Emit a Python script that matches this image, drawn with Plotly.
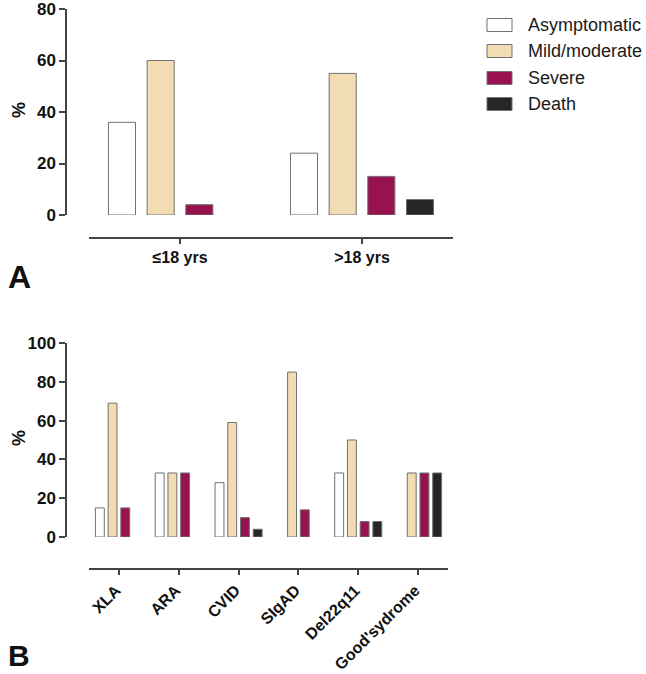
import plotly.graph_objects as go

W, H = 646, 674

series = ["Asymptomatic", "Mild/moderate", "Severe", "Death"]
colors = ["#FFFFFF", "#F2DCB4", "#981250", "#262626"]

age_groups = ["≤18 yrs", ">18 yrs"]
age_values = {
    "Asymptomatic": [36, 24],
    "Mild/moderate": [60, 55],
    "Severe": [4, 15],
    "Death": [0, 6],
}

diseases = ["XLA", "ARA", "CVID", "SIgAD", "Del22q11", "Good'sydrome"]
disease_values = {
    "Asymptomatic": [15, 33, 28, 0, 33, 0],
    "Mild/moderate": [69, 33, 59, 85, 50, 33],
    "Severe": [15, 33, 10, 14, 8, 33],
    "Death": [0, 0, 4, 0, 8, 33],
}


def px(x):
    return x / W


def py(y):
    return 1 - y / H


def bar_line(vals):
    return dict(color="#707070", width=[1 if v else 0 for v in vals])


fig = go.Figure()
for s, c in zip(series, colors):
    fig.add_trace(go.Bar(x=age_groups, y=age_values[s], name=s,
                         marker=dict(color=c, line=bar_line(age_values[s])),
                         xaxis="x", yaxis="y", showlegend=False))
    fig.add_trace(go.Bar(x=diseases, y=disease_values[s], name=s,
                         marker=dict(color=c, line=bar_line(disease_values[s])),
                         xaxis="x2", yaxis="y2", showlegend=False))

FONT = "Liberation Sans, Arial, sans-serif"
tickfont = dict(family=FONT, size=17, color="#111111", weight="bold")
axline = dict(showline=True, linecolor="#444444", linewidth=1.5, ticks="outside", tickcolor="#444444",
              tickwidth=1.5, showgrid=False, zeroline=False, tickfont=tickfont,
              ticklabeloverflow="allow")

fig.update_layout(
    width=W, height=H,
    margin=dict(l=0, r=0, t=0, b=0, autoexpand=False),
    paper_bgcolor="white", plot_bgcolor="white",
    barmode="group", bargap=0.15, bargroupgap=0.3,
    font=dict(family=FONT, color="#111111"),
    xaxis=dict(domain=[px(89), px(453)], range=[-0.5, 1.5], anchor="free", position=py(238),
               ticklen=5, **axline),
    yaxis=dict(domain=[py(215), py(9)], range=[0, 80], anchor="free", position=px(66),
               tickvals=[0, 20, 40, 60, 80], ticklen=6, **axline),
    xaxis2=dict(domain=[px(89), px(448)], range=[-0.5, 5.5], anchor="free", position=py(569),
                ticklen=5, tickangle=-45, ticklabelshift=-3, **axline),
    yaxis2=dict(domain=[py(537), py(343)], range=[0, 100], anchor="free", position=px(66),
                tickvals=[0, 20, 40, 60, 80, 100], ticklen=6, **axline),
)
fig.update_xaxes(tickfont=dict(size=16))

annotations = [
    dict(text="%", x=px(19), y=py(110), textangle=-90, font=dict(size=18, weight="bold")),
    dict(text="%", x=px(19), y=py(438), textangle=-90, font=dict(size=18, weight="bold")),
    dict(text="A", x=px(19), y=py(277), font=dict(size=32, weight="bold")),
    dict(text="B", x=px(19), y=py(655), font=dict(size=30, weight="bold")),
]
shapes = []
row_y = [25, 51, 78, 104]
for s, c, ry in zip(series, colors, row_y):
    shapes.append(dict(type="rect", xref="paper", yref="paper", x0=px(487), x1=px(512),
                       y0=py(ry + 6.5), y1=py(ry - 6.5), fillcolor=c,
                       line=dict(color="#707070", width=1)))
    annotations.append(dict(text=s, x=px(526), y=py(ry), xanchor="left",
                            font=dict(size=18, color="#1A1A1A")))
for a in annotations:
    a.setdefault("xref", "paper")
    a.setdefault("yref", "paper")
    a.setdefault("showarrow", False)
    a.setdefault("xanchor", "center")
    a.setdefault("yanchor", "middle")
fig.update_layout(annotations=annotations, shapes=shapes)

fig.write_html("out.html",
               config={"displayModeBar": False},
               post_script="document.body.style.margin='0';document.body.style.overflow='hidden';")
